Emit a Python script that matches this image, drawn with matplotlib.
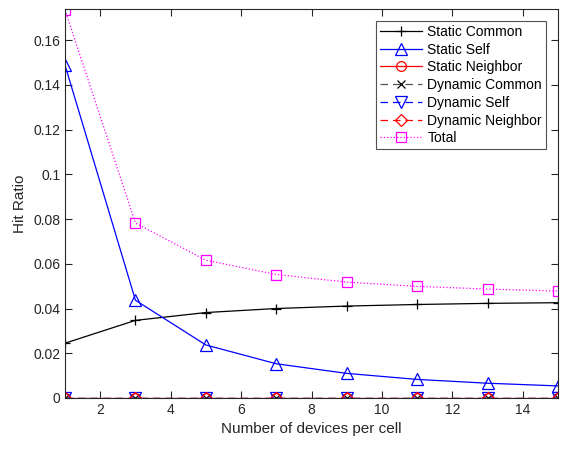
import matplotlib
matplotlib.use("Agg")
import matplotlib.pyplot as plt
import numpy as np

plt.rcParams['font.family'] = ['Liberation Sans', 'DejaVu Sans']

x = [1, 3, 5, 7, 9, 11, 13, 15]
static_common = [0.0245, 0.0347, 0.0382, 0.0400, 0.0411, 0.0418, 0.0423, 0.0426]
static_self = [0.1488, 0.0437, 0.0237, 0.0153, 0.0110, 0.0083, 0.0066, 0.0054]
static_neighbor = [0, 0, 0, 0, 0, 0, 0, 0]
dynamic_common = [0, 0, 0, 0, 0, 0, 0, 0]
dynamic_self = [0, 0, 0, 0, 0, 0, 0, 0]
dynamic_neighbor = [0, 0, 0, 0, 0, 0, 0, 0]
total = [0.1735, 0.0782, 0.0616, 0.0552, 0.0518, 0.0499, 0.0487, 0.0478]

fig = plt.figure(figsize=(5.61, 4.49), dpi=100)
ax = fig.add_axes([0.1159, 0.1136, 0.8788, 0.8664])

lw = 0.9
ax.plot(x, static_common, color='black', ls='-', marker='+', ms=7, mew=lw, lw=lw, label='Static Common')
ax.plot(x, static_self, color='blue', ls='-', marker='^', ms=8, mfc='none', mew=lw, lw=lw, label='Static Self')
ax.plot(x, static_neighbor, color='red', ls='-', marker='o', ms=7, mfc='none', mew=lw, lw=lw, label='Static Neighbor')
ax.plot(x, dynamic_common, color='#555555', ls=(0, (6, 4)), marker='x', ms=6, mec='black', mew=lw, lw=lw, label='Dynamic Common')
ax.plot(x, dynamic_self, color='blue', ls=(0, (6, 4)), marker='v', ms=8, mfc='none', mew=lw, lw=lw, alpha=1, label='Dynamic Self')
ax.plot(x, dynamic_neighbor, color='red', ls=(0, (6, 4)), marker='D', ms=6, mfc='none', mew=lw, lw=lw, label='Dynamic Neighbor')
ax.plot(x, total, color='magenta', ls=':', marker='s', ms=7, mfc='none', mew=lw, lw=lw, label='Total')

ax.set_xlim(1, 15)
ax.set_ylim(0, 0.1739)
ax.set_xticks([2, 4, 6, 8, 10, 12, 14])
ax.set_yticks([0, 0.02, 0.04, 0.06, 0.08, 0.1, 0.12, 0.14, 0.16])
ax.set_yticklabels(['0', '0.02', '0.04', '0.06', '0.08', '0.1', '0.12', '0.14', '0.16'])
ax.tick_params(direction='in', top=True, right=True, labelsize=10, colors='#262626', length=5)
for s in ax.spines.values():
    s.set_color('#262626')
    s.set_linewidth(0.8)
ax.set_xlabel('Number of devices per cell', fontsize=11, color='#262626')
ax.set_ylabel('Hit Ratio', fontsize=11, color='#262626')

leg = ax.legend(loc='upper right', bbox_to_anchor=(0.976, 0.97), fontsize=10, frameon=True,
                fancybox=False, edgecolor='#262626', handlelength=3.0, borderpad=0.3,
                labelspacing=0.27, handletextpad=0.4, borderaxespad=0)
leg.get_frame().set_linewidth(0.8)

fig.savefig('out.png', dpi=100)
